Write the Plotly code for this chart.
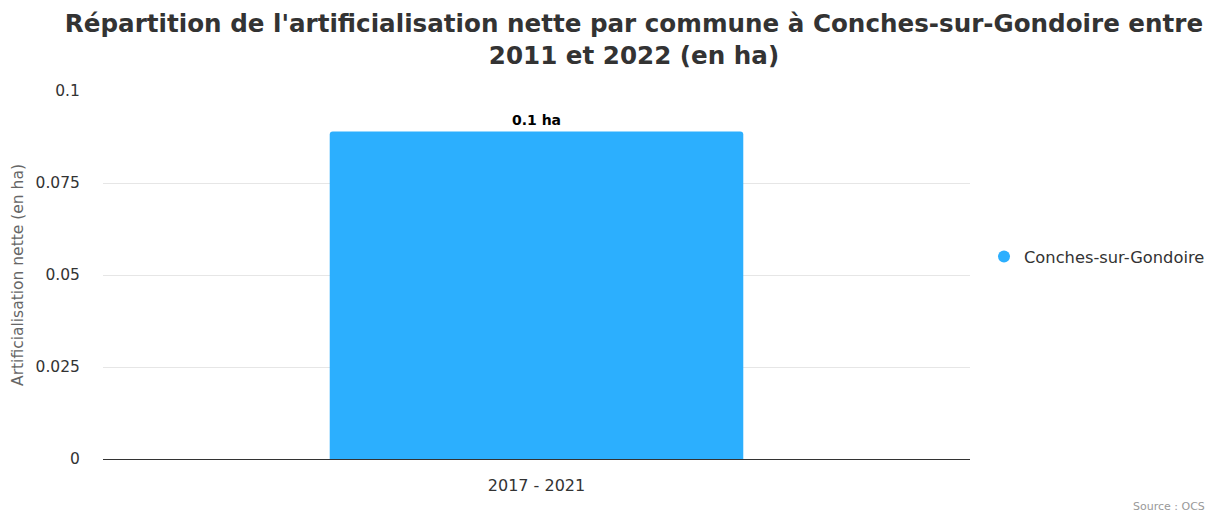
import plotly.graph_objects as go

periods = ["2017 - 2021"]
artif_ha = [0.089]
commune = "Conches-sur-Gondoire"
y_ticks = [0, 0.025, 0.05, 0.075, 0.1]
y_tick_text = ["0", "0.025", "0.05", "0.075", "0.1"]

BLUE = "#2caffe"

fig = go.Figure()
fig.add_trace(go.Bar(
    x=periods, y=artif_ha, name=commune,
    marker=dict(color=BLUE, line=dict(width=0), cornerradius=3),
    width=0.477,
    text=[f"{round(v, 1)} ha" for v in artif_ha],
    textposition="outside", cliponaxis=False,
    textfont=dict(family="DejaVu Sans", size=14, color="#000000", weight="bold"),
    showlegend=False,
))
# circular legend marker for the series
fig.add_trace(go.Scatter(
    x=[None], y=[None], mode="markers", name=commune,
    marker=dict(color=BLUE, size=15, symbol="circle"),
))

fig.update_layout(
    width=1209, height=512,
    margin=dict(l=103, r=239, t=91, b=53, autoexpand=False),
    paper_bgcolor="white", plot_bgcolor="white",
    font=dict(family="DejaVu Sans", color="#333333"),
    title=dict(
        text="Répartition de l'artificialisation nette par commune à Conches-sur-Gondoire entre<br>2011 et 2022 (en ha)",
        x=0.5244, xanchor="center", y=0.937, yanchor="top",
        font=dict(family="DejaVu Sans", size=24.6, color="#333333", weight="bold"),
    ),
    xaxis=dict(
        showgrid=False, showline=True, linecolor="#333333", linewidth=1,
        ticks="outside", ticklen=12, tickcolor="rgba(0,0,0,0)",
        tickfont=dict(size=16, color="#333333"),
    ),
    yaxis=dict(
        range=[0, 0.1], tickvals=y_ticks, ticktext=y_tick_text,
        showgrid=True, gridcolor="#e6e6e6", gridwidth=1, zeroline=False,
        ticks="outside", ticklen=19, tickcolor="rgba(0,0,0,0)",
        tickfont=dict(size=15.5, color="#333333"),
        title=dict(text="Artificialisation nette (en ha)", standoff=8,
                   font=dict(size=15.5, color="#666666")),
    ),
    legend=dict(
        x=(984 - 103) / 867, xanchor="left", y=0.549, yanchor="middle",
        font=dict(size=16.3, color="#333333"), itemsizing="constant",
        bgcolor="rgba(0,0,0,0)",
    ),
)
fig.add_annotation(
    text="Source : OCS", xref="paper", yref="paper",
    x=(1131 - 103) / 867, y=(459 - 506) / 368, xanchor="left", yanchor="middle",
    showarrow=False, font=dict(size=11, color="#999999"),
)
fig.write_html("out.html")
